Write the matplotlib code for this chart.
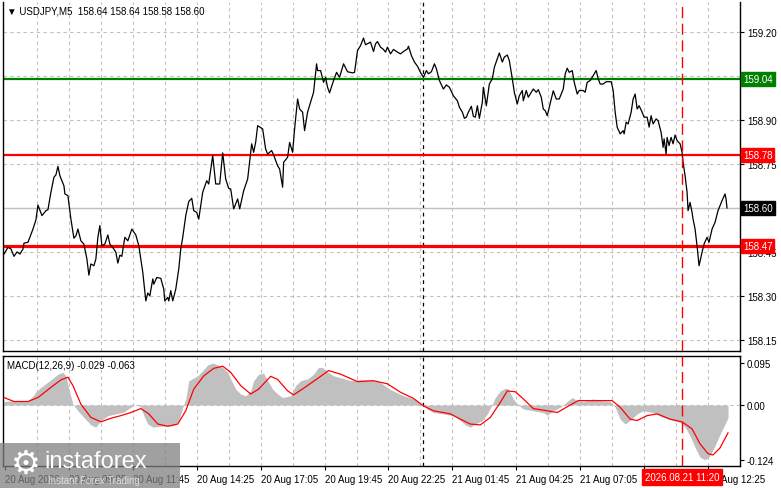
import matplotlib
matplotlib.use("Agg")
import matplotlib.pyplot as plt
from matplotlib.patches import Rectangle
from matplotlib.transforms import blended_transform_factory

plt.rcParams['font.family'] = ['Liberation Sans', 'DejaVu Sans']

# ---------------- data (bar index = 5 minute bars from the left edge) -------------
price_bar = [
    0, 2, 3.5, 5, 6.5, 8, 9.5, 10, 12, 14.5,
    16, 17, 19, 21, 22, 23.5, 25, 26, 27, 28,
    30, 30.5, 32, 33.5, 35, 36, 37, 38.5, 40, 41.5,
    42.5, 43.5, 45, 46, 47, 48, 49, 50.5, 52, 53,
    55, 56, 57, 58, 59, 60.5, 62, 64, 66, 67.5,
    69.5, 71, 72, 73, 74.5, 75, 76.5, 78.5, 80, 80.5,
    82, 82.5, 83.5, 84.5, 86, 87.5, 88.5, 89.5, 91, 92.5,
    94, 95, 96.5, 97.5, 99.5, 101.5, 102.5, 104.5, 106, 108,
    109.5, 111, 112.5, 113.5, 115, 117, 118, 120, 122, 124,
    125, 126, 127, 129.5, 131, 132, 134, 135, 137, 138,
    139.5, 140, 142, 143, 144.5, 145.5, 147, 148, 149.5, 150.5,
    152, 154, 155, 156.5, 157, 158.5, 160, 161, 162, 163,
    165, 166.5, 168, 170, 172, 174.5, 175.5, 177, 178.5, 180,
    181, 183.5, 185, 186, 187, 188.5, 190, 191, 192, 193.5,
    195, 197, 198.5, 200, 202, 202.5, 204, 205.5, 207, 208.5,
    210, 211.5, 212.5, 214, 215.5, 216.5, 218, 220, 221.5, 223,
    225, 227, 228, 229.5, 230.5, 231.5, 232.5, 234, 235, 236,
    237, 238, 239.5, 240, 241.5, 243, 244.5, 245.5, 247, 248,
    249.5, 250.5, 252, 253, 254.5, 255.5, 257, 258, 259.5, 260,
    261.5, 262.5, 264, 265, 266.5, 267.5, 269, 270, 271, 272,
    273.5, 275, 276.5, 278, 280, 281, 282, 283, 284.5, 285.5,
    287, 288, 290, 291, 292, 293.5, 295, 296.5, 297.5, 298.5,
    300, 301.5, 304, 305, 306, 307, 308.5, 310, 310.5, 311.5,
    312.5, 314, 315, 316, 317, 318, 319.5, 320.5, 322, 323,
    324, 325, 326.5, 327.5, 329, 330, 330.5, 331.5, 332, 333,
    334, 335, 336, 337, 338.5, 339.5, 340, 341, 342, 342.5,
    343.5, 344.5, 345, 346, 347, 348, 349.5, 350.5, 352, 353,
    354.5, 356, 357.5, 359.5, 361, 361.5, 362,
]
price = [
    158.443, 158.466, 158.460, 158.435, 158.450, 158.443, 158.460, 158.480, 158.483, 158.528,
    158.560, 158.610, 158.574, 158.591, 158.594, 158.654, 158.705, 158.713, 158.742, 158.710,
    158.676, 158.648, 158.642, 158.562, 158.497, 158.505, 158.528, 158.488, 158.477, 158.426,
    158.371, 158.409, 158.403, 158.426, 158.500, 158.540, 158.471, 158.477, 158.508, 158.477,
    158.460, 158.449, 158.412, 158.439, 158.435, 158.500, 158.488, 158.528, 158.508, 158.471,
    158.380, 158.283, 158.310, 158.300, 158.358, 158.340, 158.363, 158.360, 158.323, 158.283,
    158.295, 158.283, 158.318, 158.283, 158.323, 158.392, 158.460, 158.500, 158.574, 158.622,
    158.633, 158.591, 158.585, 158.562, 158.654, 158.693, 158.682, 158.779, 158.682, 158.682,
    158.788, 158.699, 158.667, 158.665, 158.597, 158.631, 158.597, 158.659, 158.699, 158.819,
    158.790, 158.824, 158.881, 158.870, 158.801, 158.784, 158.796, 158.781, 158.744, 158.733,
    158.671, 158.756, 158.773, 158.824, 158.790, 158.870, 158.972, 158.938, 158.927, 158.864,
    158.927, 158.972, 158.995, 159.092, 159.069, 159.069, 159.029, 159.046, 159.012, 158.993,
    159.035, 159.063, 159.046, 159.092, 159.065, 159.061, 159.063, 159.137, 159.154, 159.180,
    159.157, 159.166, 159.134, 159.160, 159.168, 159.149, 159.141, 159.132, 159.149, 159.126,
    159.141, 159.132, 159.126, 159.134, 159.143, 159.152, 159.120, 159.098, 159.084, 159.063,
    159.046, 159.069, 159.058, 159.065, 159.092, 159.075, 159.035, 159.006, 159.020, 159.012,
    158.983, 158.966, 158.944, 158.927, 158.906, 158.910, 158.927, 158.947, 158.913, 158.910,
    158.949, 158.906, 158.961, 159.012, 158.949, 159.023, 159.041, 159.080, 159.109, 159.129,
    159.098, 159.115, 159.122, 159.103, 159.041, 158.995, 158.955, 158.983, 159.001, 158.966,
    159.001, 158.978, 158.995, 159.006, 158.995, 159.004, 158.978, 158.938, 158.932, 158.915,
    158.958, 159.000, 158.972, 158.972, 159.006, 159.058, 159.077, 159.063, 159.069, 159.029,
    158.989, 159.001, 159.001, 158.995, 159.029, 159.035, 159.052, 159.069, 159.041, 159.023,
    159.023, 159.031, 159.031, 159.001, 158.927, 158.876, 158.853, 158.864, 158.853, 158.893,
    158.887, 158.927, 158.972, 158.989, 158.938, 158.949, 158.927, 158.910, 158.910, 158.876,
    158.915, 158.887, 158.904, 158.898, 158.858, 158.807, 158.836, 158.784, 158.841, 158.813,
    158.841, 158.819, 158.849, 158.830, 158.819, 158.790, 158.756, 158.710, 158.654, 158.591,
    158.619, 158.585, 158.562, 158.528, 158.471, 158.403, 158.449, 158.477, 158.500, 158.483,
    158.528, 158.551, 158.591, 158.625, 158.648, 158.631, 158.600,
]

hist_bar = [
    0, 5, 12, 14.5, 16, 18.5, 23.5, 27, 29.5, 31,
    32.5, 34.5, 37, 40, 43.5, 46, 48.5, 52, 56, 60,
    63.5, 66, 68.5, 70, 72, 74.5, 78.5, 82, 85, 87.5,
    89.5, 91, 92.5, 94.5, 97, 99.5, 102, 104.5, 107, 109.5,
    112, 113.5, 116, 118.5, 121, 123.5, 125, 127.5, 130, 132,
    134.5, 137, 139.5, 143.5, 146, 148.5, 152, 155, 157.5, 159.5,
    162, 165, 170, 173.5, 178.5, 183.5, 188.5, 193.5, 200, 205,
    209.5, 212, 215, 220, 225, 228.5, 231, 233.5, 236, 239.5,
    242, 244.5, 246, 248.5, 251, 252.5, 255, 257.5, 260, 265,
    270, 272, 275, 278.5, 282, 284.5, 287, 290, 295, 298.5,
    303.5, 306, 308.5, 311, 313.5, 317, 320, 325, 330, 335,
    338.5, 341, 343.5, 346, 348.5, 351, 353.5, 356, 358.5, 361,
    362.5,
]
hist = [
    0.008, 0.010, 0.010, 0.020, 0.030, 0.040, 0.057, 0.070, 0.074, 0.066,
    0.036, 0.002, -0.013, -0.028, -0.045, -0.050, -0.035, -0.024, -0.020, -0.016,
    -0.005, 0.002, -0.005, -0.024, -0.043, -0.050, -0.048, -0.047, -0.047, -0.035,
    -0.005, 0.013, 0.055, 0.060, 0.066, 0.078, 0.091, 0.095, 0.091, 0.085,
    0.074, 0.059, 0.036, 0.025, 0.021, 0.032, 0.055, 0.070, 0.072, 0.055,
    0.036, 0.025, 0.017, 0.021, 0.044, 0.055, 0.059, 0.070, 0.085, 0.085,
    0.075, 0.066, 0.060, 0.055, 0.057, 0.057, 0.051, 0.035, 0.021, 0.014,
    0.002, -0.009, -0.017, -0.020, -0.024, -0.035, -0.045, -0.050, -0.043, -0.035,
    -0.020, 0.002, 0.017, 0.032, 0.038, 0.036, 0.014, 0.000, -0.009, -0.013,
    -0.017, -0.023, -0.013, -0.005, 0.008, 0.017, 0.010, 0.008, 0.014, 0.010,
    0.008, -0.005, -0.032, -0.043, -0.035, -0.020, -0.013, -0.017, -0.028, -0.035,
    -0.039, -0.050, -0.070, -0.096, -0.118, -0.124, -0.115, -0.092, -0.066, -0.043,
    -0.029,
]

signal_bar = [
    0, 5, 12, 17, 23.5, 28.5, 32, 34.5, 38.5, 43.5,
    48.5, 53.5, 58.5, 63.5, 68.5, 72.5, 77, 82, 87, 91,
    95, 100, 105, 109.5, 113.5, 118.5, 123.5, 127.5, 133.5, 137,
    142, 145, 150, 157, 162.5, 168.5, 177, 185, 192, 198.5,
    205, 210, 215, 223.5, 228.5, 233.5, 238.5, 243.5, 248.5, 252,
    256, 260, 265, 272, 277, 283.5, 287.5, 297, 304.5, 308.5,
    313.5, 317, 322, 327, 333.5, 339.5, 344.5, 348.5, 352.5, 355,
    358.5, 362.5,
]
signal = [
    0.017, 0.008, 0.008, 0.017, 0.040, 0.057, 0.063, 0.044, 0.002, -0.028,
    -0.038, -0.030, -0.024, -0.017, -0.008, -0.020, -0.043, -0.048, -0.043, -0.013,
    0.036, 0.066, 0.083, 0.088, 0.074, 0.044, 0.025, 0.036, 0.065, 0.058,
    0.032, 0.023, 0.038, 0.060, 0.078, 0.070, 0.053, 0.055, 0.048, 0.029,
    0.015, -0.002, -0.013, -0.020, -0.032, -0.043, -0.045, -0.028, 0.006, 0.032,
    0.030, 0.014, -0.008, -0.013, -0.017, 0.000, 0.010, 0.010, 0.010, -0.005,
    -0.032, -0.035, -0.024, -0.020, -0.032, -0.038, -0.054, -0.088, -0.110, -0.113,
    -0.097, -0.063,
]

price_ticks = [159.20, 159.05, 158.90, 158.75, 158.60, 158.45, 158.30, 158.15]
# labels fully hidden behind the coloured level boxes in the original
hidden_price_labels = [159.05, 158.60]
time_bars = [0.5, 32.5, 64.5, 96.5, 128.5, 160.5, 192.5, 224.5, 256.5, 288.5, 320.5, 352.5]
time_labels = ['20 Aug 2026', '20 Aug 09:05', '20 Aug 11:45', '20 Aug 14:25', '20 Aug 17:05',
               '20 Aug 19:45', '20 Aug 22:25', '21 Aug 01:45', '21 Aug 04:25', '21 Aug 07:05',
               '', '21 Aug 12:25']

resistance = 159.04
level_hi = 158.78
level_lo = 158.47
last_price = 158.60
session_bar = 210
cursor_bar = 339.35

# ---------------- figure ----------------
W, H = 781, 489
fig = plt.figure(figsize=(W / 100, H / 100), dpi=100)
fig.patch.set_facecolor('white')

ax1 = fig.add_axes([3 / W, 1 - 352 / H, 737 / W, 349 / H])
ax2 = fig.add_axes([3 / W, 1 - 467 / H, 737 / W, 110 / H])

xlim = (-0.5, 368.5)
grid_col = '#c0c0c0'

for ax in (ax1, ax2):
    ax.set_xlim(*xlim)
    for k in range(1, 24):
        ax.axvline(16 * k + 0.5, color=grid_col, lw=0.8, ls=(0, (3, 3)), zorder=0)
    ax.axvline(session_bar, color='black', lw=0.9, ls=(0, (3, 3)), zorder=1)
    ax.axvline(cursor_bar, color='red', lw=1.0, ls=(0, (8, 4)), zorder=4)
    for s in ax.spines.values():
        s.set_color('black')
        s.set_linewidth(1)
    ax.yaxis.tick_right()
    ax.tick_params(axis='y', labelsize=7, length=3, width=0.8, pad=2)

# price panel
ax1.set_ylim(158.112, 159.303)
for p in price_ticks:
    ax1.axhline(p, color=grid_col, lw=0.8, ls=(0, (3, 3)), zorder=0)
ax1.set_yticks(price_ticks)
ax1.set_yticklabels(['' if p in hidden_price_labels else '%.2f' % p for p in price_ticks])
ax1.set_xticks([])
ax1.spines['top'].set_visible(False)

ax1.axhline(last_price, color='#c0c0c0', lw=1, zorder=1)
ax1.axhline(resistance, color='#008000', lw=1.6, zorder=2)
ax1.axhline(level_hi, color='#ff0000', lw=1.6, zorder=2)
ax1.axhline(level_lo, color='#ff0000', lw=2.3, zorder=2)
ax1.plot(price_bar, price, color='black', lw=0.9, zorder=3)

trans = blended_transform_factory(ax1.transAxes, ax1.transData)
for val, bg in [(resistance, '#008000'), (level_hi, '#ff0000'), (last_price, 'black'), (level_lo, '#ff0000')]:
    ax1.text(1.004, val, '%.2f' % val, transform=trans, fontsize=7, color='white',
             va='center', ha='left', clip_on=False, zorder=10,
             bbox=dict(boxstyle='square,pad=0.2', fc=bg, ec=bg))

# macd panel
ax2.set_ylim(-0.138, 0.111)
ax2.axhline(0, color=grid_col, lw=0.8, ls=(0, (3, 3)), zorder=0)
ax2.fill_between(hist_bar, 0, hist, color='#c0c0c0', lw=0, zorder=2)
ax2.plot(signal_bar, signal, color='red', lw=0.9, zorder=3)
ax2.set_yticks([0.095, 0.0, -0.124])
ax2.set_yticklabels(['0.095', '0.00', '-0.124'])
ax2.set_xticks(time_bars)
ax2.set_xticklabels(time_labels, ha='left')
ax2.tick_params(axis='x', labelsize=7, length=3, width=0.8, pad=3)

# texts
fig.text(7 / W, 1 - 11 / H, '\u25bc USDJPY,M5  158.64 158.64 158.58 158.60', fontsize=7,
         va='center', ha='left', family=['Liberation Sans', 'DejaVu Sans'])
fig.text(7 / W, 1 - 366 / H, 'MACD(12,26,9) -0.029 -0.063', fontsize=7, va='center', ha='left')

fig.text(682 / W, 1 - 478 / H, '2026.08.21 11:20', fontsize=7, color='white', va='center',
         ha='center', zorder=6, bbox=dict(boxstyle='square,pad=0.3', fc='#ff0000', ec='#ff0000'))

# watermark
fig.patches.append(Rectangle((0, 0), 180 / W, 45 / H, transform=fig.transFigure,
                             fc='#808080', ec='none', alpha=0.75, zorder=4))
fig.text(26 / W, 1 - 464 / H, '\u2699', fontsize=24, color='white', va='center', ha='center',
         zorder=5, family=['DejaVu Sans'])
fig.text(44 / W, 1 - 462 / H, 'instaforex', fontsize=17, color='white', va='center', ha='left',
         zorder=5)
fig.text(48 / W, 1 - 481 / H, 'Instant Forex Trading', fontsize=7, color='#e0e0e0', va='center',
         ha='left', zorder=5)

fig.savefig('out.png', dpi=100)
